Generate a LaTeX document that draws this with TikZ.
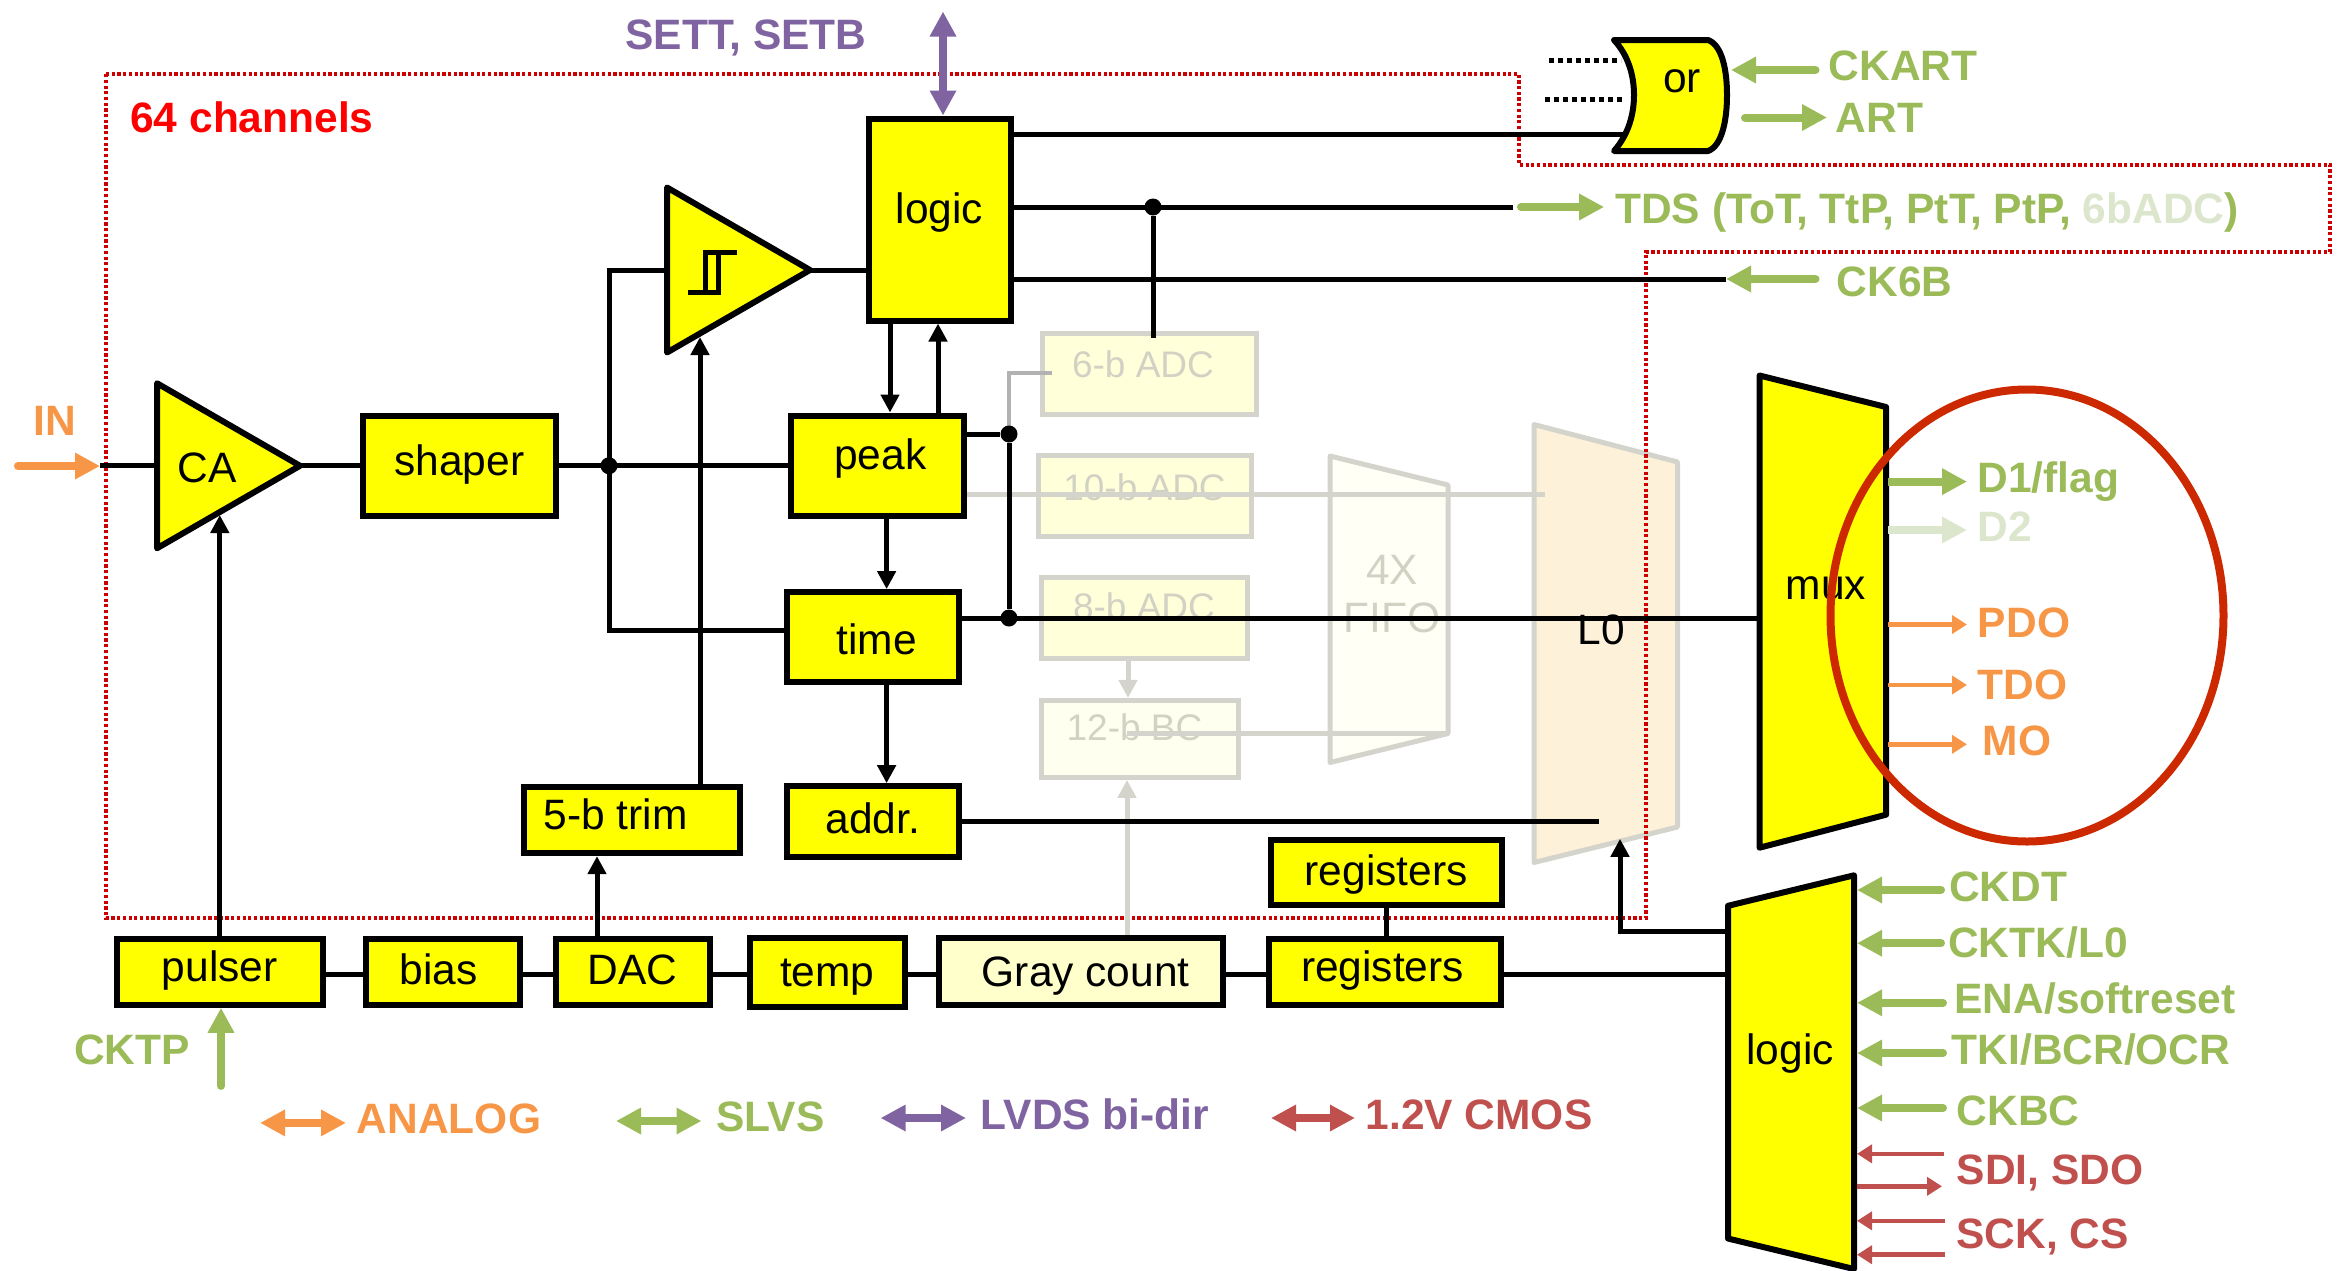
\documentclass[tikz,border=0pt]{standalone}
\usepackage{fontspec}
\setmainfont{Liberation Sans}
\usetikzlibrary{arrows.meta,shapes.geometric}
\definecolor{chipyel}{HTML}{FFFF00}
\definecolor{palefill}{HTML}{FFFFD9}
\definecolor{grayfill}{HTML}{FFFFCC}
\definecolor{lzerofill}{HTML}{FDF2D9}
\definecolor{ringred}{HTML}{CC2900}
\definecolor{sigG}{HTML}{9BBB59}
\definecolor{sigO}{HTML}{F79646}
\definecolor{sigP}{HTML}{8064A2}
\definecolor{sigR}{HTML}{C0504D}
\definecolor{fadeG}{HTML}{DCE6CC}
\definecolor{fadeline}{HTML}{D4D4CC}
\definecolor{fadetxt}{HTML}{D2D2C4}
\begin{document}
\begin{tikzpicture}[x=1pt,y=-1pt,
      font=\fontsize{42.5}{48}\selectfont,
      block/.style={draw,line width=6pt,fill=chipyel,inner sep=0pt,text height=40pt,align=center},
      fadebox/.style={draw=fadeline,line width=5pt,fill=palefill,inner sep=0pt,text height=40pt,text=fadetxt,align=center,font=\fontsize{37}{44}\selectfont},
      amp/.style={draw,line width=6pt,line join=round,fill=chipyel,isosceles triangle,isosceles triangle stretches,inner sep=0pt,outer sep=0pt,anchor=lower side},
      chip/.style={draw,line width=6pt,line join=round,fill=chipyel},
      txt/.style={inner sep=0pt},
      sig/.style={inner sep=0pt,font=\fontsize{42.5}{48}\selectfont\bfseries,text height=30pt,text depth=0pt},
      wire/.style={line width=5pt},
      arr/.style={wire,-{Triangle[length=18pt,width=18pt]}},
      faded/.style={line width=5pt,fadeline},
      fadearr/.style={faded,-{Triangle[length=18pt,width=18pt]}},
      dot/.style={circle,fill,inner sep=0pt,minimum size=17pt},
      fat/.style={line width=8pt,line cap=round,-{Triangle[length=25pt,width=25pt]}},
      fatboth/.style={line width=8pt,{Triangle[length=25pt,width=25pt]}-{Triangle[length=25pt,width=25pt]}},
      thin/.style={line width=4.5pt,-{Triangle[length=15pt,width=18pt]}}]
    \useasboundingbox (0,0) rectangle (2341,1270);
    \node[fadebox,minimum width=214pt,minimum height=81pt,text depth=32pt] (adc6) at (1149,373.5) {6-b ADC\hspace{12pt}};
    \node[fadebox,minimum width=213pt,minimum height=81pt,text depth=32pt] (adc10) at (1144.5,496) {10-b ADC};
    \node[fadebox,minimum width=206pt,minimum height=81pt,text depth=36pt] (adc8) at (1144,617.6) {8-b ADC};
    \node[fadebox,fill=palefill!40,minimum width=197pt,minimum height=77pt,text depth=37pt] (adc12) at (1139.5,738.9) {12-b BC\hspace{10pt}};
    \draw[draw=fadeline,line width=5pt,line join=round,fill=palefill!25] (1330,456) coordinate (fifoTL) -- (1448,485) -- (1448,733.5) coordinate (fifoBR) -- (1330,762.5) -- cycle;
    \node[txt,align=center,text=fadetxt] (fifo) at (1392,594) {4X\\FIFO};
    \draw[draw=fadeline,line width=5pt,line join=round,fill=lzerofill] (1534,424.5) -- (1677.5,462) -- (1677.5,827) -- (1534,862.5) -- cycle;
    \coordinate (adc6in) at (1052,372.6);
    \coordinate (l0gray) at (1545,494);
    \draw[faded,line width=4pt,gray!60] (1009,434) |- (adc6in);
    \draw[faded] (965,494) -- (l0gray);
    \draw[fadearr] ([xshift=-16pt]adc8.south) -- ([xshift=-11.5pt]adc12.north);
    \draw[faded] ([xshift=-12.5pt,yshift=5.4pt]adc12.center) -- (fifoBR);
    \draw[color=red!80!black,line width=4pt,dash pattern=on 3.2pt off 2.5pt]
      (106,73.5) -- (1518.5,73.5) -- (1518.5,164.5) -- (2330,164.5) -- (2330,252) -- (1646,252) -- (1646,918) -- (106,918) -- cycle;
    \node[sig,text=red] (nchan) at (252,117) {64 channels};
    \node[amp,minimum width=165pt,minimum height=143pt] (ca) at (157,465.75) {};
    \node[txt,text height=30pt,text depth=0pt] (calbl) at (207,467) {CA};
    \node[amp,minimum width=165pt,minimum height=143pt] (disc) at (667,270) {};
    \draw[line width=5pt,line join=miter] (688,292.6) -- (718,292.6) -- (718,252) -- (737,252) (718,252) -- (705,252) -- (705,292.6);
    \node[block,minimum width=142pt,minimum height=202pt,text depth=31.6pt] (logic) at (939.5,219.5) {logic};
    \node[block,minimum width=193.5pt,minimum height=100.5pt,text depth=20.4pt] (shaper) at (459.25,465.75) {shaper};
    \node[block,minimum width=172.5pt,minimum height=100.5pt,text depth=32.6pt] (peak) at (877.25,465.75) {\hspace*{6pt}peak};
    \node[block,minimum width=172.5pt,minimum height=89.8pt,text depth=6pt] (time) at (872.75,637) {\hspace*{8pt}time};
    \node[block,minimum width=172.5pt,minimum height=70.4pt,text depth=16pt] (addr) at (872.75,821.4) {addr.};
    \node[block,minimum width=216pt,minimum height=65.9pt,text depth=20.8pt] (trim) at (631.5,820.2) {5-b trim\hspace{32pt}};
    \node[block,minimum width=206.6pt,minimum height=65.9pt,text depth=20pt] (pulser) at (219.8,971.8) {pulser};
    \node[block,minimum width=154pt,minimum height=65.9pt,text depth=14pt] (bias) at (442.5,971.8) {bias\hspace{8pt}};
    \node[block,minimum width=153.5pt,minimum height=65.9pt,text depth=14pt] (dac) at (632.75,971.8) {DAC};
    \node[block,minimum width=154.5pt,minimum height=68.9pt,text depth=11pt] (temp) at (827.25,972.3) {temp};
    \node[block,fill=grayfill,minimum width=284.5pt,minimum height=66.9pt,text depth=10pt] (gray) at (1080.75,971.3) {\hspace*{10pt}Gray count};
    \node[block,minimum width=232pt,minimum height=65.9pt,text depth=20pt] (reglow) at (1384.5,971.8) {registers\hspace{4pt}};
    \node[block,minimum width=231.6pt,minimum height=65pt,text depth=15pt] (regup) at (1386.3,872.8) {registers};
    \draw[fadearr] ([xshift=46.25pt]gray.north) -- ([xshift=-12.5pt]adc12.south);
    \draw[chip] (1759.5,375.5) -- (1886,407) -- (1886,814.7) -- (1759.5,847.7) -- cycle;
    \draw[chip] (1728,905.8) -- (1854,875.3) -- (1854,1269) -- (1728,1238.5) -- cycle;
    \draw[chip,line cap=round] (1614,40) -- (1708,40) .. controls (1722,45) and (1727,70) .. (1727,95) .. controls (1727,120) and (1722,146) .. (1708,151) -- (1614,151) .. controls (1628,135) and (1634,115) .. (1634,95) .. controls (1634,75) and (1628,55) .. (1614,40);
    \node[txt,text height=40pt,text depth=0pt] (orlbl) at (1682,72) {or};
    \node[txt,text height=40pt,text depth=0pt] (muxlbl) at (1826,579) {mux};
    \node[txt,text height=40pt,text depth=0pt] (lglbl) at (1790,1044) {logic};
    \node[txt,text height=30pt,text depth=0pt] (l0lbl) at (1601,629) {L0};
    \node[dot] (jin) at (609,465.75) {};
    \node[dot] (jpk) at (1009,434) {};
    \node[dot] (jtm) at (1009,618) {};
    \node[dot] (jtds) at (1153,207) {};
    \coordinate (inpt) at (100,465.75);
    \coordinate (orin) at (1625,134);
    \coordinate (tdsend) at (1513,207);
    \coordinate (ck6bend) at (1726,279);
    \coordinate (muxin) at (1759.5,618);
    \coordinate (l0in) at (1599,821.4);
    \coordinate (cain) at (219.8,515);
    \coordinate (discin) at (700,337);
    \coordinate (lgin) at (1728,974.3);
    \coordinate (lgup) at (1728,931.4);
    \coordinate (l0up) at (1620,838.8);
    \draw[wire] (inpt) -- (ca.lower side);
    \draw[wire] (ca.apex) -- (shaper.west);
    \draw[wire] (shaper.east) -- (peak.west);
    \draw[wire] (disc.lower side) -| (jin.center) |- ([yshift=6.4pt]time.west);
    \draw[wire] (disc.apex) -- (disc.apex -| logic.west);
    \draw[arr] (pulser.north) -- (cain);
    \draw[arr] ([xshift=68.5pt]trim.north) -- (discin);
    \draw[arr] ([xshift=-35.75pt]dac.north) -- ([xshift=-34.5pt]trim.south);
    \draw[arr] ([xshift=-49.5pt]logic.south) -- ([xshift=12.75pt]peak.north);
    \draw[arr] ([xshift=60.75pt]peak.north) -- ([xshift=-1.5pt]logic.south);
    \draw[arr] ([xshift=9.35pt]peak.south) -- ([xshift=13.85pt]time.north);
    \draw[arr] ([xshift=13.85pt]time.south) -- ([xshift=13.85pt]addr.north);
    \draw[wire] ([yshift=31.75pt]peak.east) -- (jpk) -- (jtm);
    \draw[wire] ([yshift=19pt]time.east) -- (muxin);
    \draw[wire] (addr.east) -- (l0in);
    \draw[wire] ([yshift=85.5pt]logic.east) -- (orin);
    \draw[wire] ([yshift=12.5pt]logic.east) -- (tdsend);
    \draw[wire] ([yshift=-59.5pt]logic.east) -- (ck6bend);
    \draw[wire] (jtds) -- ([yshift=-7pt]jtds |- adc6.north);
    \draw[wire] ([yshift=-2.5pt]pulser.east) -- ([yshift=-2.5pt]bias.west);
    \draw[wire] ([yshift=-2.5pt]bias.east) -- ([yshift=-2.5pt]dac.west);
    \draw[wire] ([yshift=-2.5pt]dac.east) -- ([yshift=-2pt]temp.west);
    \draw[wire] ([yshift=-2pt]temp.east) -- ([yshift=-3pt]gray.west);
    \draw[wire] ([yshift=-3pt]gray.east) -- ([yshift=-2.5pt]reglow.west);
    \draw[wire] ([yshift=-2.5pt]reglow.east) -- (lgin);
    \draw[wire] (regup.south) -- (regup.south |- reglow.north);
    \draw[arr] (lgup) -| (l0up);
    \coordinate (dotup) at (1549,60);
    \coordinate (dotlow) at (1545,99);
    \draw[line width=5pt,dash pattern=on 5pt off 4pt] (dotup) -- (1621,60);
    \draw[line width=5pt,dash pattern=on 5pt off 4pt] (dotlow) -- (1625,99);
    \node[ellipse,draw=ringred,line width=8pt,minimum width=393pt,minimum height=452pt,inner sep=0pt] (outs) at (2027,615.5) {};
    \node[sig,text=sigP] (sett) at (746,34) {SETT, SETB};
    \coordinate (settend) at (943,11.5);
    \draw[fatboth,sigP] (settend) -- ([xshift=3.5pt]logic.north);
    \node[sig,text=sigO] (inlbl) at (55,420) {IN};
    \coordinate (inst) at (18,466);
    \draw[fat,sigO] (inst) -- (inst -| inpt);
    \node[sig,text=sigG] (ckart) at (1903,65) {CKART};
    \node[sig,text=sigG] (art) at (1879.5,117) {ART};
    \node[sig,text=sigG] (tds) at (1927,208) {TDS (ToT, TtP, PtT, PtP, \textcolor{fadeG}{6bADC})};
    \node[sig,text=sigG] (ck6b) at (1894.5,281.6) {CK6B};
    \coordinate (ckartA) at (1815.5,70);
    \coordinate (artA) at (1745,117.5);
    \coordinate (tdsA) at (1521,207);
    \coordinate (ck6bA) at (1815.5,279);
    \draw[fat,sigG] (ckartA) -- (1731,70);
    \draw[fat,sigG] (artA) -- (1827,117.5);
    \draw[fat,sigG,shorten >=11pt] (tdsA) -- (tdsA -| tds.west);
    \draw[fat,sigG] (ck6bA) -- (ck6bA -| ck6bend);
    \node[sig,text=sigG] (d1) at (2048.5,477) {D1/flag};
    \node[sig,text=fadeG] (d2) at (2005,526.5) {D2};
    \node[sig,text=sigO] (pdo) at (2024,622) {PDO};
    \node[sig,text=sigO] (tdo) at (2022.5,684.3) {TDO};
    \node[sig,text=sigO] (mo) at (2017,740.4) {MO};
    \coordinate (muxR) at (1888,600);
    \coordinate (d1A) at (1967,481.6);
    \coordinate (d2A) at (1967,530);
    \coordinate (pdoA) at (1967,624.5);
    \coordinate (tdoA) at (1967,685);
    \coordinate (moA) at (1967,744.3);
    \draw[fat,sigG,line cap=butt] (d1A -| muxR) -- (d1A);
    \draw[fat,fadeG,line cap=butt] (d2A -| muxR) -- (d2A);
    \draw[thin,sigO] (pdoA -| muxR) -- (pdoA);
    \draw[thin,sigO] (tdoA -| muxR) -- (tdoA);
    \draw[thin,sigO] (moA -| muxR) -- (moA);
    \node[sig,text=sigG] (ckdt) at (2008,886) {CKDT};
    \node[sig,text=sigG] (cktk) at (2038,942.2) {CKTK/L0};
    \node[sig,text=sigG] (ena) at (2095,998.8) {ENA/softreset};
    \node[sig,text=sigG] (tki) at (2091,1049.5) {TKI/BCR/OCR};
    \node[sig,text=sigG] (ckbc) at (2018,1110) {CKBC};
    \node[sig,text=sigR] (sdi) at (2050,1169.6) {SDI, SDO};
    \node[sig,text=sigR] (sck) at (2042.6,1233.6) {SCK, CS};
    \coordinate (lgR) at (1857,1000);
    \coordinate (ckdtA) at (1941,890);
    \coordinate (cktkA) at (1941,943.2);
    \coordinate (enaA) at (1943,1002.8);
    \coordinate (tkiA) at (1943,1053);
    \coordinate (ckbcA) at (1943,1108);
    \coordinate (sdiA) at (1944,1153.8);
    \coordinate (sdoA) at (1942,1186.3);
    \coordinate (sckA) at (1945,1220.8);
    \coordinate (csA) at (1945,1254.7);
    \draw[fat,sigG] (ckdtA) -- (ckdtA -| lgR);
    \draw[fat,sigG] (cktkA) -- (cktkA -| lgR);
    \draw[fat,sigG] (enaA) -- (enaA -| lgR);
    \draw[fat,sigG] (tkiA) -- (tkiA -| lgR);
    \draw[fat,sigG] (ckbcA) -- (ckbcA -| lgR);
    \draw[thin,sigR] (sdiA) -- (sdiA -| lgR);
    \draw[thin,sigR] (sdoA -| lgR) -- (sdoA);
    \draw[thin,sigR] (sckA) -- (sckA -| lgR);
    \draw[thin,sigR] (csA) -- (csA -| lgR);
    \node[sig,text=sigG] (cktp) at (132,1049.5) {CKTP};
    \coordinate (cktpA) at (221,1085.9);
    \draw[fat,sigG] (cktpA) -- (pulser.south -| cktpA);
    \node[sig,text=sigO] (analog) at (449,1118.4) {ANALOG};
    \node[sig,text=sigG] (slvs) at (770.5,1116.9) {SLVS};
    \node[sig,text=sigP] (lvds) at (1095,1114) {LVDS bi-dir};
    \node[sig,text=sigR] (cmos) at (1479,1114) {1.2V CMOS};
    \coordinate (keyA) at (260,1122.9);
    \coordinate (keyS) at (616,1121);
    \coordinate (keyL) at (880.6,1118);
    \coordinate (keyC) at (1271,1118);
    \draw[fatboth,sigO] (keyA) -- (346,1122.9);
    \draw[fatboth,sigG] (keyS) -- (701.5,1121);
    \draw[fatboth,sigP] (keyL) -- (966,1118);
    \draw[fatboth,sigR] (keyC) -- (1355,1118);
  \end{tikzpicture}
\end{document}
